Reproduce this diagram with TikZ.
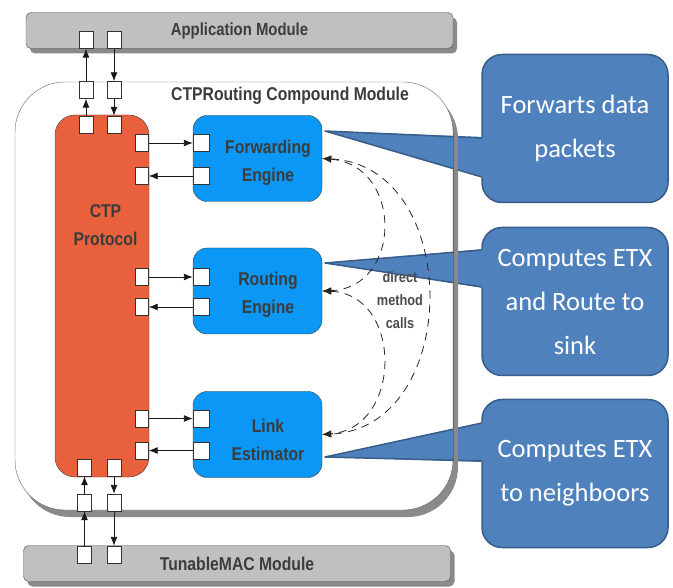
\documentclass[tikz,border=0pt]{standalone}
\usepackage{fontspec}
\setmainfont{Liberation Sans}
\newfontfamily\callfont{Carlito}
\newfontfamily\lblfont[FakeStretch=0.85]{Liberation Sans}
\usetikzlibrary{arrows.meta,shadows,positioning}
\definecolor{barfill}{HTML}{C0C0C0}
\definecolor{ctpfill}{HTML}{E9603D}
\definecolor{engfill}{HTML}{0A97F5}
\definecolor{callfill}{HTML}{4F81BD}
\definecolor{callline}{HTML}{385D8A}
\definecolor{txtgray}{HTML}{3C3C3C}
\definecolor{shadowgray}{HTML}{8A8A8A}

\begin{document}
\begin{tikzpicture}[x=1pt, y=-1pt, >={Latex[length=9pt,width=7pt]},
	lbl/.style={font=\lblfont\fontsize{18.5}{28}\selectfont\bfseries, text=txtgray, align=center},
	bar/.style={lbl, draw=black!70, fill=barfill, rounded corners=5pt, minimum width=427pt, minimum height=36pt,
		drop shadow={shadow xshift=4pt, shadow yshift=-5pt, fill=shadowgray, opacity=1}},
	port/.style={draw=black!80, fill=white, minimum width=14pt, minimum height=17pt, inner sep=0pt},
	engine/.style={draw=black!75, fill=engfill, rounded corners=14pt, minimum width=129pt, minimum height=86pt},
	callout/.style={draw=callline, line width=1.5pt, fill=callfill, rounded corners=20pt, minimum width=186pt,
		minimum height=148pt, text=white, align=center, font=\callfont\fontsize{26.5}{44}\selectfont},
	link/.style={->, line width=0.9pt, black!90},
	call/.style={<->, line width=0.8pt, black!85, dash pattern=on 8pt off 6pt}]
	\useasboundingbox (0,0) rectangle (673,588);
	% outer modules
	\node[bar, font=\lblfont\fontsize{17.5}{20}\selectfont\bfseries] (app) at (239.5,30.5) {Application Module};
	\node[bar] (mac) at (237,563.5) {TunableMAC Module};
	\node[draw=black!60, fill=white, rounded corners=50pt, minimum width=438pt, minimum height=428pt,
		drop shadow={shadow xshift=5pt, shadow yshift=-7pt, fill=shadowgray, opacity=1}] (cm) at (234,296) {};
	\node[lbl] (cmtxt) at (290,96) {CTPRouting Compound Module};
	% protocol and engines
	\node[draw=black!75, fill=ctpfill, rounded corners=20pt, minimum width=94pt, minimum height=362pt] (ctp) at (102,296) {};
	\node[lbl] (ctptxt) at (105.5,225) {CTP\\Protocol};
	\node[engine] (fe) at (257.5,158.5) {};
	\node[lbl] (fetxt) at (268,163) {Forwarding\\Engine};
	\node[engine] (re) at (257.5,291) {};
	\node[lbl] (retxt) at (268,295) {Routing\\Engine};
	\node[engine] (le) at (257.5,434.5) {};
	\node[lbl] (letxt) at (268,440) {Link\\Estimator};
	% callouts
	\node[callout] (fwd) at (575,128.5) {Forwarts data\\packets};
	\node[callout] (etx) at (575,301.5) {Computes ETX\\and Route to\\sink};
	\node[callout] (nbr) at (575,473.5) {Computes ETX\\to neighboors};
	\coordinate (tipf) at (325,131);
	\coordinate (tipr) at (325,263);
	\coordinate (tipl) at (325,457);
	\fill[callfill] (tipf) -- (484,137) -- (484,178) -- cycle;
	\draw[callline, line width=1.5pt, line join=round] (482,138) -- (tipf) -- (482,177);
	\fill[callfill] (tipr) -- (484,249) -- (484,288) -- cycle;
	\draw[callline, line width=1.5pt, line join=round] (482,250) -- (tipr) -- (482,287);
	\fill[callfill] (tipl) -- (484,422) -- (484,462) -- cycle;
	\draw[callline, line width=1.5pt, line join=round] (482,423) -- (tipl) -- (482,461);
	% right edge of the compound module over the pointers
	\draw[line width=5pt, shadowgray] (455.5,134) -- (455.5,466);
	\draw[black!60] (453,133) -- (453,462);
	% ports top and bottom
	\node[port] (ap1) at (86,40) {};
	\node[port] (ap2) at (114,40) {};
	\node[port] (ct1) at (86,90) {};
	\node[port] (ct2) at (114,90) {};
	\node[port] (pt1) at (86,124.5) {};
	\node[port] (pt2) at (114,124.5) {};
	\node[port] (pb1) at (84.5,467.5) {};
	\node[port] (pb2) at (114,467.5) {};
	\node[port] (cb1) at (84.5,502.5) {};
	\node[port] (cb2) at (114,502.5) {};
	\node[port] (mp1) at (84.5,554.5) {};
	\node[port] (mp2) at (114,554.5) {};
	\draw[link] (ct1) -- (ap1);
	\draw[link] (ap2) -- (ct2);
	\draw[link] (pt1) -- (ct1);
	\draw[link] (ct2) -- (pt2);
	\draw[link] (mp1) -- (cb1);
	\draw[link] (cb1) -- (pb1);
	\draw[link] (pb2) -- (cb2);
	\draw[link] (cb2) -- (mp2);
	% ports between protocol and engines
	\foreach \e/\ya/\yb in {f/143/176, r/277/307, l/418.5/450.5}{
		\node[port, minimum width=13pt] (c\e1) at (142,\ya) {};
		\node[port, minimum width=13pt] (c\e2) at (142,\yb) {};
		\node[port, minimum width=16pt] (\e p1) at (201,\ya) {};
		\node[port, minimum width=16pt] (\e p2) at (201,\yb) {};
		\draw[link] (c\e1) -- (\e p1);
		\draw[link] (\e p2) -- (c\e2);
	}
	% direct method calls
	\draw[call] (fe.east) .. controls (463,165) and (463,428) .. (le.east);
	\draw[call] (fe.east) .. controls (403,165) and (403,288) .. (re.east);
	\draw[call] (re.east) .. controls (403,294) and (403,428) .. (le.east);
	\node[lbl, font=\lblfont\fontsize{15}{23}\selectfont\bfseries, text=black!70] (dmc) at (400,300) {direct\\method\\calls};
\end{tikzpicture}
\end{document}
